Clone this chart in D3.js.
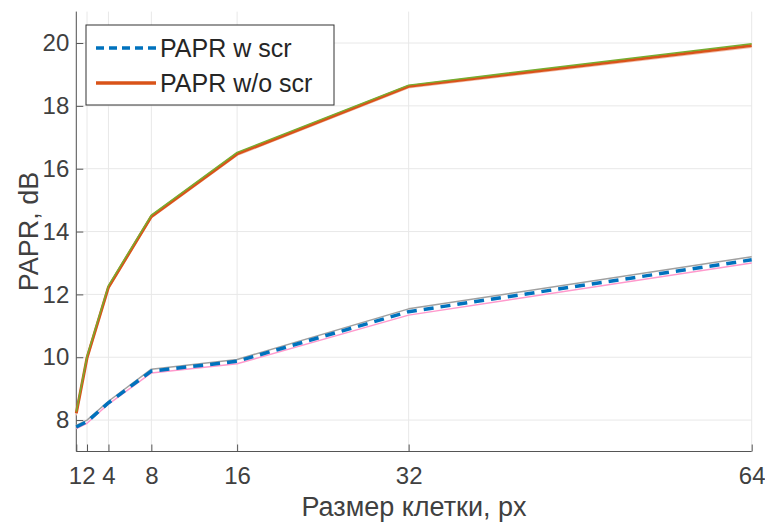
<!DOCTYPE html>
<html>
<head>
<meta charset="utf-8">
<script src="https://cdn.jsdelivr.net/npm/d3@7"></script>
<style>
  body { margin: 0; background: #fff; }
  svg { display: block; font-family: "Liberation Sans", Arial, sans-serif; }
</style>
</head>
<body>
<svg id="chart"></svg>
<script>
// cell sizes (x) and PAPR values (dB)
const cellSizes = [1, 2, 4, 8, 16, 32, 64];
const xTicks = [1, 2, 4, 8, 16, 32, 64];
const yTicks = [8, 10, 12, 14, 16, 18, 20];

const paprScr = [7.78, 7.95, 8.55, 9.56, 9.87, 11.45, 13.1];
const paprScrHi = [7.83, 8.0, 8.6, 9.62, 9.93, 11.54, 13.2];
const paprScrLo = [7.73, 7.9, 8.51, 9.5, 9.79, 11.34, 13.0];

const paprNoScr = [8.22, 9.98, 12.23, 14.48, 16.47, 18.62, 19.92];
const paprNoScrHi = [8.27, 10.03, 12.28, 14.52, 16.52, 18.66, 19.98];
const paprNoScrLo = [8.15, 9.92, 12.17, 14.43, 16.42, 18.57, 19.86];

const legendLabels = ["PAPR w scr", "PAPR w/o scr"];

// Configurations
const width = 765;
const height = 525;
const xRange = [76.3, 751.7];
const yRange = [451.5, 11.6];
const textColor = "#404040";
const axisColor = "#555";
const gridColor = "#e8e8e8";

const svg = d3.select("#chart")
    .attr("width", width)
    .attr("height", height)
    .attr("viewBox", [0, 0, width, height]);

const x = d3.scaleLinear([1, 64], xRange);
const y = d3.scaleLinear([7, 21], yRange);

// grid
svg.append("g")
    .attr("stroke", gridColor)
    .call(g => g.selectAll(".vx").data(xTicks).join("line")
        .attr("x1", d => x(d)).attr("x2", d => x(d))
        .attr("y1", yRange[0]).attr("y2", yRange[1]))
    .call(g => g.selectAll(".hy").data(yTicks).join("line")
        .attr("x1", xRange[0]).attr("x2", xRange[1])
        .attr("y1", d => y(d)).attr("y2", d => y(d)));

// axes, ticks inside like matlab
const xAxis = d3.axisBottom(x).tickValues(xTicks).tickSize(-7).tickPadding(15).tickSizeOuter(0);
const yAxis = d3.axisLeft(y).tickValues(yTicks).tickSize(-7).tickPadding(7).tickSizeOuter(0);

svg.append("g")
    .attr("transform", `translate(0,${yRange[0]})`)
    .call(xAxis)
    .call(g => g.select(".domain").attr("stroke", axisColor).attr("d", `M${xRange[0]},0H${xRange[1]}`))
    .call(g => g.selectAll(".tick line").attr("stroke", axisColor))
    .call(g => g.selectAll(".tick text").attr("fill", textColor).attr("font-size", 24)
        // 1 and 2 sit very close, push them apart a hair
        .attr("dx", d => d === 1 ? -1.3 : d === 2 ? 1.3 : 0));

svg.append("g")
    .attr("transform", `translate(${xRange[0]},0)`)
    .call(yAxis)
    .call(g => g.select(".domain").attr("stroke", axisColor).attr("d", `M0,${yRange[0]}V${yRange[1]}`))
    .call(g => g.selectAll(".tick line").attr("stroke", axisColor))
    .call(g => g.selectAll(".tick text").attr("fill", textColor).attr("font-size", 24));

// axis labels
svg.append("text")
    .attr("x", (xRange[0] + xRange[1]) / 2)
    .attr("y", 516)
    .attr("text-anchor", "middle")
    .attr("fill", textColor)
    .attr("font-size", 27)
    .text("Размер клетки, px");

svg.append("text")
    .attr("transform", `translate(38,${(yRange[0] + yRange[1]) / 2}) rotate(-90)`)
    .attr("text-anchor", "middle")
    .attr("fill", textColor)
    .attr("font-size", 27)
    .text("PAPR, dB");

// lines
const line = vals => d3.line()
    .x((d, i) => x(cellSizes[i]))
    .y(d => y(d))(vals);

const series = [
    {values: paprNoScrLo, color: "#f2bfae", width: 1.2},
    {values: paprScrHi, color: "#a0a0a0", width: 1.5},
    {values: paprScrLo, color: "#ff99cc", width: 1.5},
    {values: paprNoScr, color: "#D95319", width: 3},
    {values: paprNoScrHi, color: "#77AC30", width: 1.5},
    {values: paprScr, color: "#0072BD", width: 3.5, dash: "10,7"}
];

svg.append("g")
    .attr("fill", "none")
    .selectAll("path")
    .data(series)
    .join("path")
    .attr("d", d => line(d.values))
    .attr("stroke", d => d.color)
    .attr("stroke-width", d => d.width)
    .attr("stroke-dasharray", d => d.dash || null)
    .attr("stroke-linejoin", "round");

// legend
const legend = svg.append("g");
legend.append("rect")
    .attr("x", 86).attr("y", 25)
    .attr("width", 248).attr("height", 80)
    .attr("fill", "#fff")
    .attr("stroke", "#333")
    .attr("stroke-width", 1);

const legendItems = [
    {label: legendLabels[0], color: "#0072BD", dash: "8,5"},
    {label: legendLabels[1], color: "#D95319", dash: null}
];

legend.selectAll(".item")
    .data(legendItems)
    .join("g")
    .attr("transform", (d, i) => `translate(0,${48 + i * 35})`)
    .call(g => g.append("line")
        .attr("x1", 96).attr("x2", 156)
        .attr("stroke", d => d.color)
        .attr("stroke-width", 3.5)
        .attr("stroke-dasharray", d => d.dash))
    .call(g => g.append("text")
        .attr("x", 160)
        .attr("dy", "0.35em")
        .attr("fill", "#262626")
        .attr("font-size", 25)
        .text(d => d.label));
</script>
</body>
</html>
